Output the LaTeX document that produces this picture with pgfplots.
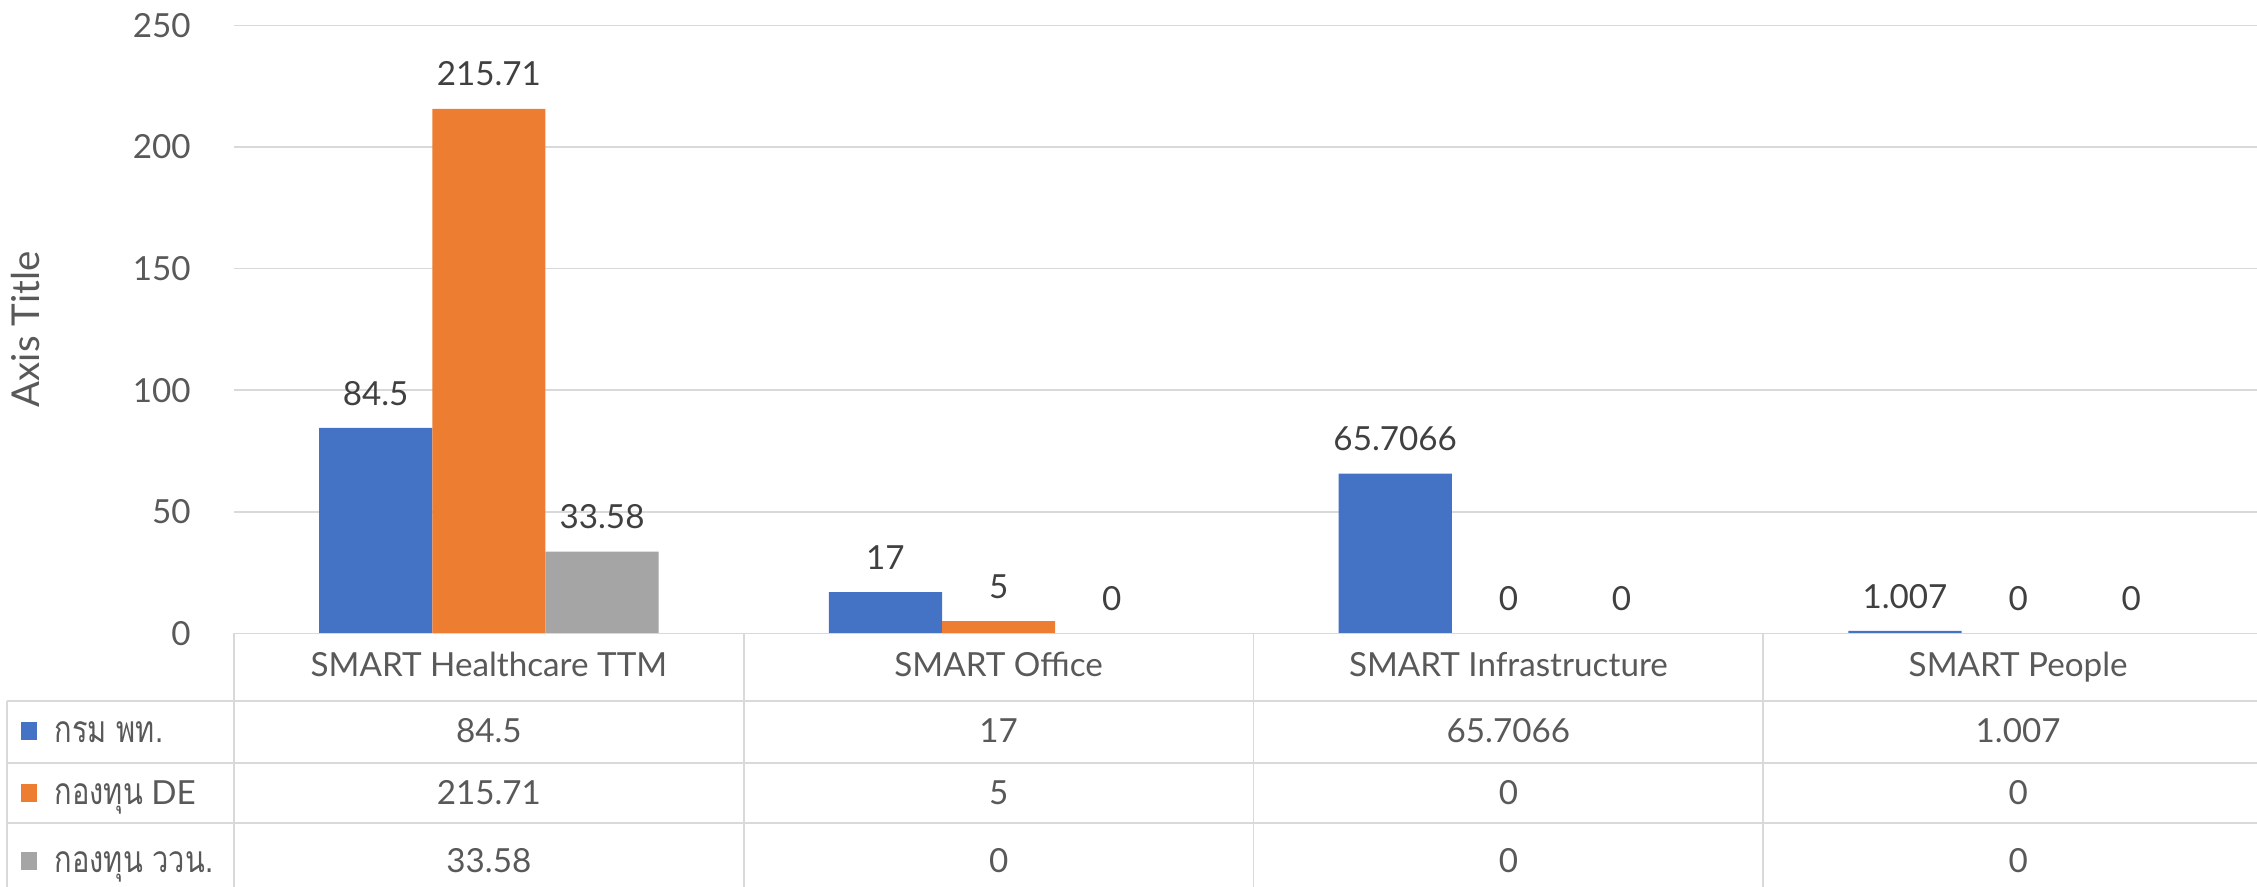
\documentclass[border=0pt]{standalone}
\usepackage{pgfplots}
\pgfplotsset{compat=1.18}
\usepackage{fontspec}
\setmainfont{Lato}
\newfontfamily\thaifont[Script=Thai,Scale=1.12,FakeStretch=0.78]{Loma}
\definecolor{cblue}{HTML}{4472C4}
\definecolor{corange}{HTML}{ED7D31}
\definecolor{cgray}{HTML}{A5A5A5}
\definecolor{gridc}{HTML}{D9D9D9}
\definecolor{labc}{HTML}{404040}
\definecolor{tickc}{HTML}{595959}
\begin{document}
\begin{tikzpicture}[font=\fontsize{8.3}{10}\selectfont]
\useasboundingbox (0,0) rectangle (564.25pt,221.75pt);
\begin{axis}[
  at={(58.5pt,63.4pt)}, anchor=south west,
  scale only axis, width=509.75pt, height=152pt,
  ymin=0, ymax=250, ytick={0,50,...,250},
  xmin=-0.5, xmax=3.5, xtick={0,1,2,3},
  xticklabels={SMART Healthcare TTM, SMART Office, SMART Infrastructure, SMART People},
  ybar=0pt, bar width=28.3pt,
  axis line style={draw=none},
  major tick length=0pt,
  ymajorgrids, grid style={gridc, line width=0.4pt},
  tick label style={color=tickc},
  /pgf/number format/assume math mode=true,
  yticklabel style={xshift=-7.3pt},
  xticklabel style={anchor=base, yshift=-10.9pt},
  ylabel={Axis Title},
  every axis y label/.style={at={([xshift=-52pt]axis description cs:0,0.5)}, rotate=90, anchor=center, color=tickc, font=\fontsize{9.6}{11}\selectfont},
  nodes near coords={\pgfplotspointmeta}, point meta=explicit symbolic,
  nodes near coords style={anchor=base, yshift=5.7pt, color=labc},
  clip=false,
]
\addplot[fill=cblue, draw=none] coordinates {(0,84.5) [84.5] (1,17) [17] (2,65.7066) [65.7066] (3,1.007) [1.007]};
\addplot[fill=corange, draw=none] coordinates {(0,215.71) [215.71] (1,5) [5] (2,0) [0] (3,0) [0]};
\addplot[fill=cgray, draw=none] coordinates {(0,33.58) [33.58] (1,0) [0] (2,0) [0] (3,0) [0]};
% data table grid
\draw[gridc, line width=0.4pt] (axis cs:-0.5,0) -- (axis cs:3.5,0);
\draw[gridc, line width=0.4pt] (axis cs:-0.5,0) -- ([yshift=-63.4pt]axis cs:-0.5,0);
\draw[gridc, line width=0.4pt] (axis cs:0.5,0) -- ([yshift=-63.4pt]axis cs:0.5,0);
\draw[gridc, line width=0.4pt] (axis cs:1.5,0) -- ([yshift=-63.4pt]axis cs:1.5,0);
\draw[gridc, line width=0.4pt] (axis cs:2.5,0) -- ([yshift=-63.4pt]axis cs:2.5,0);
\draw[gridc, line width=0.4pt] (axis cs:3.5,0) -- ([yshift=-63.4pt]axis cs:3.5,0);
\draw[gridc, line width=0.4pt] ([xshift=-56.75pt,yshift=-16.9pt]axis cs:-0.5,0) -- ([yshift=-16.9pt]axis cs:3.5,0);
\draw[gridc, line width=0.4pt] ([xshift=-56.75pt,yshift=-32.4pt]axis cs:-0.5,0) -- ([yshift=-32.4pt]axis cs:3.5,0);
\draw[gridc, line width=0.4pt] ([xshift=-56.75pt,yshift=-47.4pt]axis cs:-0.5,0) -- ([yshift=-47.4pt]axis cs:3.5,0);
\draw[gridc, line width=0.4pt] ([xshift=-56.75pt,yshift=-16.9pt]axis cs:-0.5,0) -- ([xshift=-56.75pt,yshift=-63.4pt]axis cs:-0.5,0);
% row keys and labels
\node[fill=cblue, minimum width=4pt, minimum height=4.6pt, inner sep=0pt] at ([xshift=-51.3pt,yshift=-24.4pt]axis cs:-0.5,0) {};
\node[fill=corange, minimum width=4pt, minimum height=4.6pt, inner sep=0pt] at ([xshift=-51.3pt,yshift=-39.9pt]axis cs:-0.5,0) {};
\node[fill=cgray, minimum width=4pt, minimum height=4.6pt, inner sep=0pt] at ([xshift=-51.3pt,yshift=-56.9pt]axis cs:-0.5,0) {};
\node[anchor=base west, inner sep=0pt, color=tickc] at ([xshift=-45pt,yshift=-27.2pt]axis cs:-0.5,0) {\thaifont กรม พท.};
\node[anchor=base west, inner sep=0pt, color=tickc] at ([xshift=-45pt,yshift=-42.7pt]axis cs:-0.5,0) {{\thaifont กองทุน} DE};
\node[anchor=base west, inner sep=0pt, color=tickc] at ([xshift=-45pt,yshift=-59.7pt]axis cs:-0.5,0) {\thaifont กองทุน ววน.};
% row values
\node[anchor=base, color=tickc] at ([yshift=-27.2pt]axis cs:0,0) {84.5};
\node[anchor=base, color=tickc] at ([yshift=-27.2pt]axis cs:1,0) {17};
\node[anchor=base, color=tickc] at ([yshift=-27.2pt]axis cs:2,0) {65.7066};
\node[anchor=base, color=tickc] at ([yshift=-27.2pt]axis cs:3,0) {1.007};
\node[anchor=base, color=tickc] at ([yshift=-42.7pt]axis cs:0,0) {215.71};
\node[anchor=base, color=tickc] at ([yshift=-42.7pt]axis cs:1,0) {5};
\node[anchor=base, color=tickc] at ([yshift=-42.7pt]axis cs:2,0) {0};
\node[anchor=base, color=tickc] at ([yshift=-42.7pt]axis cs:3,0) {0};
\node[anchor=base, color=tickc] at ([yshift=-59.7pt]axis cs:0,0) {33.58};
\node[anchor=base, color=tickc] at ([yshift=-59.7pt]axis cs:1,0) {0};
\node[anchor=base, color=tickc] at ([yshift=-59.7pt]axis cs:2,0) {0};
\node[anchor=base, color=tickc] at ([yshift=-59.7pt]axis cs:3,0) {0};
\end{axis}
\end{tikzpicture}
\end{document}
